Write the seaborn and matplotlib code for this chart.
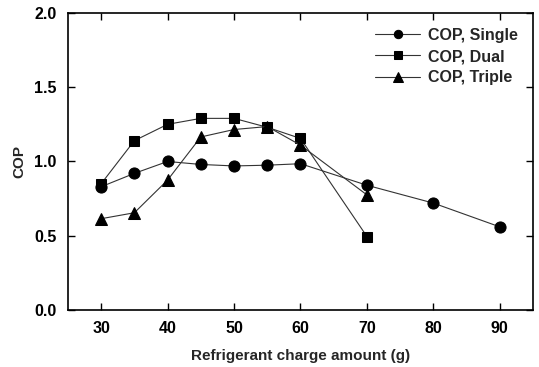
import matplotlib
matplotlib.use("Agg")
import matplotlib.pyplot as plt
import seaborn as sns
import pandas as pd

x_single = [30, 35, 40, 45, 50, 55, 60, 70, 80, 90]
cop_single = [0.83, 0.92, 1.00, 0.98, 0.97, 0.975, 0.985, 0.84, 0.72, 0.56]
x_dual = [30, 35, 40, 45, 50, 55, 60, 70]
cop_dual = [0.85, 1.14, 1.25, 1.29, 1.29, 1.23, 1.155, 0.495]
x_triple = [30, 35, 40, 45, 50, 55, 60, 70]
cop_triple = [0.615, 0.655, 0.875, 1.165, 1.215, 1.235, 1.11, 0.775]

sns.set_theme(style="ticks")
plt.rcParams['font.family'] = ['Liberation Sans', 'DejaVu Sans']
plt.rcParams['font.weight'] = 'bold'

fig = plt.figure(figsize=(5.39, 3.67), dpi=100)
ax = fig.add_axes([0.126, 0.155, 0.863, 0.81])

series = [
    ("COP, Single", x_single, cop_single, "o", 8),
    ("COP, Dual", x_dual, cop_dual, "s", 7),
    ("COP, Triple", x_triple, cop_triple, "^", 9),
]
for name, xs, ys, mk, ms in series:
    df = pd.DataFrame({"x": xs, "y": ys})
    sns.lineplot(data=df, x="x", y="y", ax=ax, marker=mk, markersize=ms,
                 color="#333333", linewidth=0.8, markerfacecolor="black",
                 markeredgecolor="black", label=name)

ax.set_xlim(25, 95)
ax.set_ylim(0.0, 2.0)
ax.set_xticks([30, 40, 50, 60, 70, 80, 90])
ax.set_yticks([0.0, 0.5, 1.0, 1.5, 2.0])
ax.set_yticklabels(["0.0", "0.5", "1.0", "1.5", "2.0"])
ax.tick_params(direction="in", top=True, right=True, length=5, width=1,
               labelsize=11.5, pad=8, colors="black")
for lab in ax.get_xticklabels() + ax.get_yticklabels():
    lab.set_fontweight("bold")
for sp in ax.spines.values():
    sp.set_linewidth(1.2)
    sp.set_color("black")
ax.set_xlabel("Refrigerant charge amount (g)", fontsize=11, fontweight="bold", labelpad=9)
ax.set_ylabel("COP", fontsize=11, fontweight="bold", labelpad=6)

leg = ax.legend(loc="upper right", frameon=False, fontsize=11.5, handlelength=2.8,
                markerscale=0.75, borderaxespad=0.55, labelspacing=0.38,
                handletextpad=0.5)
for t in leg.get_texts():
    t.set_fontweight("bold")

fig.savefig("out.png", dpi=100)
